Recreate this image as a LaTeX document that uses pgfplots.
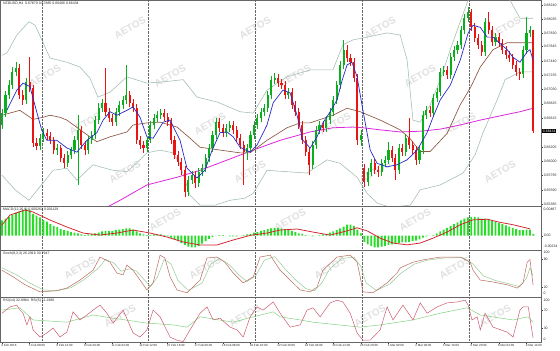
\documentclass[border=0pt]{standalone}
\usepackage{fontspec}
\setmainfont{Liberation Sans}
\usepackage{pgfplots}
\usepackage{pgfplotstable}
\pgfplotsset{compat=1.18}
\definecolor{cgreen}{RGB}{10,175,30}
\definecolor{cred}{RGB}{235,20,20}
\definecolor{cblue}{RGB}{40,40,200}
\definecolor{cbrown}{RGB}{140,85,65}
\definecolor{cmag}{RGB}{220,40,220}
\definecolor{cbb}{RGB}{160,188,172}
\definecolor{chist}{RGB}{40,220,40}
\definecolor{csig}{RGB}{210,30,40}
\definecolor{cstk}{RGB}{185,105,95}
\definecolor{cstd}{RGB}{150,200,150}
\definecolor{crsia}{RGB}{205,90,110}
\definecolor{crsib}{RGB}{130,210,130}
\definecolor{cwm}{RGB}{224,224,224}

\pgfplotstableread{
i o h l c
0 0.6652 0.6675 0.6646 0.6669
1 0.6669 0.6701 0.6663 0.6695
2 0.6695 0.6717 0.6689 0.6709
3 0.6709 0.6735 0.6704 0.6728
4 0.6728 0.6742 0.6722 0.6734
7 0.6688 0.6719 0.6682 0.6714
11 0.6622 0.6639 0.6616 0.6633
12 0.6633 0.6648 0.6628 0.6641
16 0.6616 0.6625 0.6609 0.6619
19 0.6598 0.6615 0.6592 0.6609
20 0.6609 0.6620 0.6603 0.6616
21 0.6616 0.6636 0.6610 0.6630
22 0.6630 0.6666 0.6566 0.6645
25 0.6616 0.6636 0.6610 0.6630
26 0.6630 0.6643 0.6625 0.6638
27 0.6638 0.6665 0.6632 0.6659
28 0.6659 0.6684 0.6653 0.6676
29 0.6676 0.6689 0.6671 0.6684
33 0.6656 0.6676 0.6651 0.6671
34 0.6671 0.6686 0.6665 0.6681
35 0.6681 0.6693 0.6675 0.6688
36 0.6688 0.6738 0.6682 0.6695
42 0.6619 0.6635 0.6613 0.6630
43 0.6630 0.6658 0.6626 0.6652
44 0.6652 0.6668 0.6646 0.6662
45 0.6662 0.6672 0.6656 0.6666
46 0.6666 0.6675 0.6661 0.6669
54 0.6556 0.6579 0.6550 0.6573
55 0.6573 0.6586 0.6567 0.6580
57 0.6569 0.6590 0.6563 0.6585
58 0.6585 0.6596 0.6579 0.6590
59 0.6590 0.6610 0.6585 0.6605
60 0.6605 0.6625 0.6599 0.6619
61 0.6619 0.6643 0.6613 0.6638
62 0.6638 0.6662 0.6632 0.6656
65 0.6641 0.6653 0.6635 0.6648
66 0.6648 0.6658 0.6642 0.6652
71 0.6613 0.6625 0.6602 0.6619
72 0.6619 0.6643 0.6613 0.6638
73 0.6638 0.6658 0.6632 0.6652
74 0.6652 0.6668 0.6646 0.6662
75 0.6662 0.6676 0.6656 0.6671
76 0.6671 0.6682 0.6665 0.6676
77 0.6676 0.6701 0.6671 0.6695
78 0.6695 0.6722 0.6689 0.6717
79 0.6717 0.6727 0.6711 0.6719
83 0.6695 0.6705 0.6689 0.6699
90 0.6595 0.6629 0.6589 0.6623
91 0.6623 0.6651 0.6618 0.6645
92 0.6645 0.6658 0.6639 0.6652
94 0.6648 0.6665 0.6642 0.6659
95 0.6659 0.6676 0.6653 0.6671
96 0.6671 0.6693 0.6665 0.6688
97 0.6688 0.6715 0.6682 0.6709
98 0.6709 0.6744 0.6704 0.6738
99 0.6738 0.6774 0.6732 0.6760
104 0.6630 0.6645 0.6622 0.6638
106 0.6570 0.6590 0.6565 0.6585
107 0.6585 0.6603 0.6579 0.6598
110 0.6585 0.6603 0.6579 0.6598
111 0.6598 0.6608 0.6592 0.6602
112 0.6602 0.6628 0.6596 0.6616
115 0.6587 0.6625 0.6582 0.6619
117 0.6613 0.6639 0.6608 0.6633
121 0.6602 0.6622 0.6596 0.6616
122 0.6616 0.6672 0.6610 0.6666
123 0.6666 0.6679 0.6661 0.6673
125 0.6669 0.6696 0.6663 0.6691
126 0.6691 0.6705 0.6685 0.6699
127 0.6699 0.6734 0.6693 0.6728
128 0.6728 0.6737 0.6722 0.6731
130 0.6724 0.6755 0.6718 0.6750
131 0.6750 0.6765 0.6744 0.6760
132 0.6760 0.6772 0.6754 0.6767
133 0.6767 0.6794 0.6761 0.6788
134 0.6788 0.6811 0.6782 0.6805
135 0.6805 0.6821 0.6800 0.6814
140 0.6757 0.6805 0.6751 0.6800
143 0.6771 0.6784 0.6765 0.6778
151 0.6725 0.6765 0.6719 0.6760
152 0.6760 0.6807 0.6754 0.6784
153 0.6784 0.6794 0.6778 0.6788
}\greenbars

\pgfplotstableread{
i o h l c
5 0.6734 0.6739 0.6689 0.6695
6 0.6695 0.6702 0.6681 0.6688
8 0.6714 0.6750 0.6699 0.6705
9 0.6705 0.6709 0.6620 0.6626
10 0.6626 0.6633 0.6616 0.6622
13 0.6641 0.6646 0.6630 0.6636
14 0.6636 0.6642 0.6625 0.6630
15 0.6630 0.6635 0.6610 0.6616
17 0.6619 0.6623 0.6599 0.6605
18 0.6605 0.6610 0.6590 0.6598
23 0.6645 0.6651 0.6618 0.6623
24 0.6623 0.6629 0.6609 0.6616
30 0.6684 0.6734 0.6665 0.6671
31 0.6671 0.6676 0.6656 0.6662
32 0.6662 0.6668 0.6651 0.6656
37 0.6695 0.6701 0.6678 0.6684
38 0.6684 0.6689 0.6671 0.6676
39 0.6676 0.6682 0.6625 0.6630
40 0.6630 0.6636 0.6618 0.6623
41 0.6623 0.6629 0.6612 0.6619
47 0.6669 0.6675 0.6658 0.6663
48 0.6663 0.6669 0.6651 0.6656
49 0.6656 0.6662 0.6625 0.6630
50 0.6630 0.6636 0.6603 0.6609
51 0.6609 0.6615 0.6593 0.6599
52 0.6599 0.6605 0.6580 0.6587
53 0.6587 0.6593 0.6549 0.6556
56 0.6580 0.6586 0.6562 0.6569
63 0.6656 0.6662 0.6642 0.6648
64 0.6648 0.6653 0.6635 0.6641
67 0.6652 0.6658 0.6639 0.6645
68 0.6645 0.6651 0.6628 0.6633
69 0.6633 0.6639 0.6618 0.6623
70 0.6623 0.6629 0.6566 0.6613
80 0.6719 0.6725 0.6706 0.6712
81 0.6712 0.6718 0.6704 0.6709
82 0.6709 0.6715 0.6689 0.6695
84 0.6699 0.6705 0.6675 0.6681
85 0.6681 0.6686 0.6665 0.6671
86 0.6671 0.6676 0.6646 0.6652
87 0.6652 0.6658 0.6625 0.6630
88 0.6630 0.6636 0.6608 0.6613
89 0.6613 0.6619 0.6580 0.6595
93 0.6652 0.6658 0.6642 0.6648
100 0.6760 0.6767 0.6742 0.6748
101 0.6748 0.6754 0.6737 0.6742
102 0.6742 0.6748 0.6714 0.6719
103 0.6719 0.6725 0.6623 0.6630
105 0.6590 0.6596 0.6563 0.6570
108 0.6598 0.6603 0.6582 0.6587
109 0.6587 0.6593 0.6577 0.6585
113 0.6616 0.6622 0.6599 0.6605
114 0.6605 0.6610 0.6573 0.6587
116 0.6619 0.6625 0.6608 0.6613
118 0.6633 0.6662 0.6618 0.6623
119 0.6623 0.6629 0.6610 0.6616
120 0.6616 0.6622 0.6595 0.6602
124 0.6673 0.6679 0.6663 0.6669
129 0.6731 0.6737 0.6718 0.6724
136 0.6814 0.6818 0.6787 0.6793
137 0.6793 0.6798 0.6771 0.6777
138 0.6777 0.6782 0.6761 0.6767
139 0.6767 0.6772 0.6751 0.6757
141 0.6800 0.6814 0.6782 0.6788
142 0.6788 0.6794 0.6765 0.6771
144 0.6778 0.6784 0.6764 0.6770
145 0.6770 0.6775 0.6754 0.6760
146 0.6760 0.6765 0.6747 0.6752
147 0.6752 0.6758 0.6742 0.6748
148 0.6748 0.6754 0.6732 0.6738
149 0.6738 0.6744 0.6722 0.6728
150 0.6728 0.6734 0.6717 0.6725
154 0.67879 0.67885 0.66406 0.66434
}\redbars

\pgfplotstableread{
x y
1.4 0.6673
4.3 0.6702
6.1 0.6712
8.1 0.6707
10.1 0.6670
11.5 0.6645
13.0 0.6630
15.9 0.6630
18.8 0.6619
21.7 0.6613
24.6 0.6630
27.5 0.6641
29.3 0.6659
31.3 0.6671
33.3 0.6666
36.2 0.6673
38.0 0.6678
40.0 0.6663
42.0 0.6635
43.8 0.6633
46.7 0.6656
48.7 0.6659
51.6 0.6630
53.6 0.6590
56.5 0.6576
58.8 0.6587
60.9 0.6616
63.2 0.6641
65.2 0.6642
67.0 0.6635
69.0 0.6620
71.9 0.6613
73.9 0.6623
76.8 0.6652
78.6 0.6684
81.4 0.6702
83.5 0.6698
85.5 0.6666
87.2 0.6630
89.3 0.6619
91.3 0.6635
93.0 0.6655
95.1 0.6671
97.1 0.6688
98.5 0.6715
100.0 0.6738
101.4 0.6742
102.9 0.6721
104.6 0.6673
106.7 0.6616
108.7 0.6597
111.6 0.6592
114.5 0.6595
117.4 0.6602
120.3 0.6616
123.2 0.6641
124.9 0.6663
127.0 0.6688
129.9 0.6709
132.8 0.6745
135.1 0.6784
136.5 0.6795
138.6 0.6792
140.6 0.6778
142.3 0.6778
144.3 0.6769
146.4 0.6760
148.1 0.6749
150.1 0.6742
152.2 0.6757
153.0 0.6760
153.9 0.6745
}\blueMA

\pgfplotstableread{
x y
0 0.6666
5.2 0.6673
9.0 0.6660
11.9 0.6663
13.9 0.6666
16.8 0.6663
18.8 0.6659
23.5 0.6642
27.5 0.6628
31.3 0.6635
36.2 0.6642
38.0 0.6652
42.0 0.6655
45.8 0.6656
50.7 0.6649
54.5 0.6633
57.4 0.6620
63.2 0.6616
69.0 0.6612
71.9 0.6612
76.8 0.6630
82.6 0.6648
86.4 0.6655
89.3 0.6655
95.9 0.6666
100.0 0.6676
103.8 0.6671
109.6 0.6659
115.4 0.6645
118.3 0.6632
121.2 0.6614
124.1 0.6614
129.0 0.6640
132.8 0.6681
135.7 0.6705
138.6 0.6735
142.3 0.6760
146.4 0.6770
153.9 0.6770
}\brownMA

\pgfplotstableread{
x y
27.0 0.6525
34.2 0.6544
42.0 0.6566
50.7 0.6577
57.4 0.6587
67.0 0.6605
72.8 0.6616
80.6 0.6630
89.3 0.6642
95.9 0.6648
101.7 0.6649
104.6 0.6648
109.6 0.6645
115.4 0.6642
121.2 0.6643
127.0 0.6646
132.8 0.6652
138.6 0.6659
144.3 0.6665
150.1 0.6671
153.9 0.6676
}\magMA

\pgfplotstableread{
x y
0 0.6752
1.4 0.6755
4.3 0.6781
7.8 0.6800
9.6 0.6795
11.9 0.6770
13.9 0.6748
18.8 0.6742
22.6 0.6735
25.5 0.6719
27.8 0.6692
31.3 0.6699
36.2 0.6721
42.0 0.6712
47.2 0.6714
52.5 0.6717
56.5 0.6692
62.3 0.6685
69.0 0.6671
72.8 0.6669
76.8 0.6702
82.6 0.6721
89.3 0.6731
95.9 0.6731
98.8 0.6767
101.7 0.6774
105.8 0.6778
111.6 0.6784
115.4 0.6781
117.4 0.6745
119.1 0.6659
121.2 0.6656
124.1 0.6681
127.0 0.6717
129.9 0.6760
132.8 0.6800
135.1 0.6831
138.6 0.6860
142.9 0.6860
147.2 0.6831
150.1 0.6805
153.9 0.6805
}\bbup

\pgfplotstableread{
x y
0 0.6580
3.8 0.6559
7.8 0.6544
11.9 0.6569
14.8 0.6587
18.8 0.6590
21.7 0.6573
26.4 0.6595
28.4 0.6592
32.2 0.6587
36.2 0.6585
40.0 0.6602
42.0 0.6612
45.8 0.6616
49.6 0.6612
51.6 0.6595
54.5 0.6551
57.4 0.6537
61.7 0.6537
66.1 0.6544
70.4 0.6547
72.8 0.6554
76.8 0.6587
82.6 0.6585
88.4 0.6583
94.2 0.6602
98.0 0.6597
102.9 0.6577
105.8 0.6554
108.7 0.6540
112.5 0.6534
118.3 0.6537
121.2 0.6559
127.0 0.6566
133.6 0.6583
137.1 0.6609
139.4 0.6641
143.5 0.6688
145.8 0.6717
150.1 0.6728
153.9 0.6728
}\bblo

\pgfplotstableread{
i v
0 0.0025
1 0.0028
2 0.0031
3 0.0034
4 0.0038
5 0.0040
6 0.0042
7 0.0043
8 0.0042
9 0.0036
10 0.0033
11 0.0030
12 0.0026
13 0.0023
14 0.0019
15 0.0016
16 0.0014
17 0.0011
18 0.0009
19 0.0008
20 0.0006
21 0.0005
22 0.0004
23 0.0002
24 0.0001
25 0.0002
26 0.0003
27 0.0004
28 0.0005
29 0.0007
30 0.0008
31 0.0008
32 0.0008
33 0.0009
34 0.0010
35 0.0011
36 0.0012
37 0.0012
38 0.0010
39 0.0007
40 0.0004
41 0.0002
42 0.0001
43 0.0001
44 0.0002
45 0.0002
46 0.0002
47 0.0001
48 -0.0001
49 -0.0003
50 -0.0006
51 -0.0009
52 -0.0012
53 -0.0015
54 -0.0018
55 -0.0019
56 -0.0019
57 -0.0017
58 -0.0013
59 -0.0009
60 -0.0005
61 -0.0002
62 0.00003
63 0.0001
64 0.0001
65 0.00003
66 -0.0001
67 -0.0001
68 -0.0001
69 0.00003
70 0.0001
71 0.0002
72 0.0003
73 0.0005
74 0.0006
75 0.0008
76 0.0009
77 0.0011
78 0.0012
79 0.0013
80 0.0013
81 0.0012
82 0.0011
83 0.0010
84 0.0008
85 0.0006
86 0.0004
87 0.0003
88 0.0001
89 0.00003
90 -0.0001
91 0.00003
92 0.0001
93 0.0002
94 0.0003
95 0.0005
96 0.0007
97 0.0009
98 0.0012
99 0.0015
100 0.0018
101 0.0018
102 0.0016
103 0.0010
104 0.0004
105 -0.0010
106 -0.0014
107 -0.0017
108 -0.0019
109 -0.0019
110 -0.0018
111 -0.0017
112 -0.0015
113 -0.0014
114 -0.0013
115 -0.0012
116 -0.0011
117 -0.0011
118 -0.0010
119 -0.0009
120 -0.0008
121 -0.0006
122 -0.0003
123 -0.0001
124 0.00003
125 0.0001
126 0.0004
127 0.0007
128 0.0010
129 0.0013
130 0.0016
131 0.0019
132 0.0022
133 0.0025
134 0.0028
135 0.0030
136 0.0031
137 0.0031
138 0.0030
139 0.0028
140 0.0028
141 0.0027
142 0.0025
143 0.0023
144 0.0021
145 0.0019
146 0.0017
147 0.0015
148 0.0013
149 0.0011
150 0.0009
151 0.0009
152 0.0010
153 0.0010
154 0.0003
}\macdhist

\pgfplotstableread{
x y
0 0.00175
2.3 0.00339
6.7 0.00421
9.0 0.00388
13.9 0.00257
18.8 0.00143
23.5 0.00044
28.4 0.00011
33.3 0.00044
38.0 0.00093
42.9 0.00044
47.8 -0.00021
52.5 -0.00103
57.4 -0.00152
62.3 -0.00152
67.0 -0.00070
71.9 0.00005
76.8 0.00044
80.6 0.00093
85.5 0.00110
90.1 0.00060
95.1 0.00010
100.0 0.00080
102.9 0.00130
105.8 0.00080
109.6 -0.00040
113.3 -0.00120
117.4 -0.00150
121.2 -0.00120
124.9 -0.00040
129.0 0.00060
132.8 0.00180
136.5 0.00260
140.6 0.00270
144.3 0.00220
148.1 0.00180
153.0 0.00113
}\macdsig

\pgfplotstableread{
x y
0 57
3.2 43
6.7 26
11.0 11
15.4 13
18.8 19
22.6 36
26.4 57
28.4 85
31.3 74
33.3 51
35.1 47
36.2 68
38.0 57
42.0 15
43.8 30
45.8 89
47.2 83
48.7 43
50.7 15
53.6 9
57.4 36
59.4 83
62.3 85
64.6 74
67.0 51
69.9 30
72.8 43
74.8 85
77.7 89
80.6 57
83.5 36
86.4 15
89.3 11
91.3 21
93.0 57
97.1 85
100.9 89
102.9 74
103.8 43
104.6 11
107.5 9
111.6 30
114.5 51
115.4 62
119.1 74
122.0 79
127.0 85
132.8 85
135.7 74
136.5 57
138.6 36
142.3 32
146.4 26
149.3 19
151.0 30
152.2 74
153.0 80
153.9 26
}\stochK

\pgfplotstableread{
x y
0 62
4 48
8 30
12 15
16 13
20 20
24 38
28 62
30 80
32.5 72
34.5 55
37 60
39 55
43 22
45 42
47 80
49 70
51 35
54 14
58 30
60.5 70
63 82
66 68
68.5 48
71 33
73.5 45
76 78
79 86
82 60
85 37
88 18
90.5 13
92.5 28
95 60
98.5 82
102 85
104 65
105.5 30
108.5 14
112.5 28
115.5 50
119.5 70
123 78
128 83
133.5 84
136.5 70
139.5 45
143 35
147 28
150 22
152 40
153 62
153.9 45
}\stochD

\pgfplotstableread{
x y
0 64
2.3 78
4.3 82
5.2 71
6.1 64
7.2 38
8.1 56
9.0 27
11.0 11
13.0 20
14.8 31
16.8 11
18.8 22
20.6 67
22.6 49
24.6 60
26.4 71
28.4 82
30.4 64
32.2 42
35.1 71
38.0 20
40.0 11
42.0 27
43.8 71
45.8 56
48.7 11
50.7 4
52.5 1
54.5 27
57.4 64
59.4 78
61.2 49
63.2 53
66.1 33
68.1 27
69.9 11
71.9 56
73.9 78
75.7 71
78.6 89
80.6 64
83.5 33
86.4 38
88.4 71
90.1 76
92.2 56
95.1 87
97.1 93
98.8 89
100.9 64
102.9 20
104.6 4
106.7 4
109.6 27
111.6 78
113.3 49
116.2 82
119.1 49
121.2 87
123.2 64
126.1 78
129.0 87
131.9 89
134.2 93
135.1 82
136.2 49
137.7 56
138.6 27
140.0 64
142.3 33
146.4 22
148.1 11
150.1 71
151.0 78
152.5 78
153.9 9
}\rsiA

\pgfplotstableread{
x y
0 71
5.2 76
9.0 49
18.8 44
26.4 60
32.2 53
42.0 42
49.6 38
53.6 33
57.4 56
67.0 44
72.8 56
78.6 67
80.6 56
86.4 49
90.1 44
103.8 33
109.6 38
119.1 49
127.0 64
134.8 76
138.6 60
148.1 49
152.5 56
153.9 44
}\rsiB

\pgfplotsset{
  panel/.style={
    scale only axis, width=541pt, xmin=-0.58, xmax=156.2,
    axis line style={draw=black!60, line width=0.7pt},
    ytick pos=right, yticklabel pos=right,
    scaled y ticks=false, scaled x ticks=false,
    tick align=outside, major tick length=1.6pt,
    tick style={draw=black!75, line width=0.3pt},
    yticklabel style={font=\fontsize{3.5}{4}\selectfont, text=black!85, inner sep=1pt},
    xtick=\empty,
    extra x ticks={11.5,42.5,73.5,104.5,135.5},
    extra x tick labels={},
    extra x tick style={grid=major, major tick length=0pt},
    major grid style={densely dotted, black!60, line width=0.35pt},
    /pgf/number format/assume math mode=true,
  },
  wick/.style={draw=none, mark=none, forget plot, error bars/.cd, y dir=both, y explicit, error mark=none, error bar style={solid, draw=#1, line width=0.55pt}},
  body/.style={draw=none, mark=none, forget plot, error bars/.cd, y dir=both, y explicit, error mark=none, error bar style={solid, draw=#1, line width=2.1pt}},
}
\newcommand{\lf}{\fontsize{3.5}{4}\selectfont}

\begin{document}
\begin{tikzpicture}
\path[use as bounding box] (0,0) rectangle (560pt,-351pt);
\foreach \wx/\wy in {130/28,255/28,380/28,505/28,
                     45/76,170/76,295/76,420/76,
                     85/124,210/124,335/124,460/124,
                     125/172,250/172,375/172,500/172,
                     165/220,290/220,415/220,
                     80/268,205/268,330/268,455/268,
                     120/316,245/316,370/316,495/316} {
  \node[rotate=30, text=cwm, inner sep=0pt, font=\fontsize{10}{10}\selectfont\bfseries] at (\wx pt,-\wy pt) {AETOS};
}

% main price panel
\begin{axis}[panel, name=main, at={(0pt,0pt)}, anchor=north west, height=206pt,
  ymin=0.65358, ymax=0.68312,
  ytick={0.68240,0.68035,0.67830,0.67645,0.67440,0.67235,0.67030,0.66825,0.66615,0.66205,0.66000,0.65795,0.65590,0.65385},
  yticklabels={0.68240,0.68035,0.67830,0.67645,0.67440,0.67235,0.67030,0.66825,0.66615,0.66205,0.66000,0.65795,0.65590,0.65385}]
\addplot[cbb, line width=0.55pt] table[x=x,y=y] {\bbup};
\addplot[cbb, line width=0.55pt] table[x=x,y=y] {\bblo};
\addplot[cmag, line width=0.8pt] table[x=x,y=y] {\magMA};
\addplot[cbrown, line width=0.65pt] table[x=x,y=y] {\brownMA};
\addplot[wick=cgreen] table[x=i, y expr={(\thisrow{h}+\thisrow{l})/2}, y error expr={(\thisrow{h}-\thisrow{l})/2}] {\greenbars};
\addplot[body=cgreen] table[x=i, y expr={(\thisrow{o}+\thisrow{c})/2}, y error expr={abs(\thisrow{c}-\thisrow{o})/2}] {\greenbars};
\addplot[wick=cred] table[x=i, y expr={(\thisrow{h}+\thisrow{l})/2}, y error expr={(\thisrow{h}-\thisrow{l})/2}] {\redbars};
\addplot[body=cred] table[x=i, y expr={(\thisrow{o}+\thisrow{c})/2}, y error expr={abs(\thisrow{c}-\thisrow{o})/2}] {\redbars};
\addplot[cblue, line width=0.7pt] table[x=x,y=y] {\blueMA};
\end{axis}

% MACD
\begin{axis}[panel, name=macd, at={(0pt,-206pt)}, anchor=north west, height=44pt,
  ymin=-0.00234, ymax=0.00487, ytick={0}, yticklabels={0.00}]
\addplot[ybar, bar width=1.9pt, fill=chist, draw=none] table[x=i,y=v] {\macdhist};
\addplot[csig, line width=0.75pt] table[x=x,y=y] {\macdsig};
\end{axis}

% Stochastic
\begin{axis}[panel, name=stoch, at={(0pt,-250pt)}, anchor=north west, height=47pt,
  ymin=0, ymax=100, ytick={20,80}, yticklabels={20,80}]
\addplot[cstd, line width=0.5pt] table[x=x,y=y] {\stochD};
\addplot[cstk, line width=0.5pt] table[x=x,y=y] {\stochK};
\end{axis}

% RSI
\begin{axis}[panel, name=rsi, at={(0pt,-297pt)}, anchor=north west, height=45pt,
  ymin=0, ymax=100, ytick={30,70}, yticklabels={30,70},
  xtick={0,8,...,152}, xtick pos=bottom,
  xticklabels={4 Feb 2016,5 Feb 08:00,8 Feb 12:00,9 Feb 20:00,11 Feb 04:00,12 Feb 12:00,15 Feb 16:00,17 Feb 00:00,18 Feb 08:00,19 Feb 16:00,22 Feb 20:00,24 Feb 04:00,25 Feb 12:00,26 Feb 20:00,1 Mar 00:00,2 Mar 08:00,3 Mar 16:00,6 Mar 20:00,8 Mar 04:00,9 Mar 12:00},
  xticklabel style={font=\fontsize{3.0}{3.5}\selectfont, anchor=north west, inner sep=0.6pt, xshift=-1.5pt, text=black!85}]
\addplot[crsib, line width=0.5pt] table[x=x,y=y] {\rsiB};
\addplot[crsia, line width=0.5pt] table[x=x,y=y] {\rsiA};
\end{axis}

% panel titles
\node[anchor=north west, inner sep=0pt, font=\lf, text=black!85] at (3pt,-2pt) {NZDUSD,H4\ \ 0.67879 0.67885 0.66406 0.66434};
\node[anchor=north west, inner sep=0pt, font=\lf, text=black!85] at (3pt,-208pt) {MACD(12,26,9) 0.000262 0.001129};
\node[anchor=north west, inner sep=0pt, font=\lf, text=black!85] at (3pt,-252pt) {Stoch(8,3,3) 26.2916 30.7947};
\node[anchor=north west, inner sep=0pt, font=\lf, text=black!85] at (3pt,-299pt) {RSI(14) 32.8984\ \ RSI(5) 11.2386};

% extra right-hand labels
\node[anchor=west, inner sep=1pt, font=\lf, text=black!85] at (542.5pt,-209pt) {0.00487};
\node[anchor=west, inner sep=1pt, font=\lf, text=black!85] at (542.5pt,-246.5pt) {-0.00234};
\node[anchor=west, inner sep=1pt, font=\lf, text=black!85] at (542.5pt,-252.5pt) {100};
\node[anchor=west, inner sep=1pt, font=\lf, text=black!85] at (542.5pt,-293.5pt) {0};
\node[anchor=west, inner sep=1pt, font=\lf, text=black!85] at (542.5pt,-300pt) {100};
\node[anchor=west, inner sep=1pt, font=\lf, text=black!85] at (542.5pt,-339.5pt) {0};
\node[anchor=west, fill=black, text=white, inner sep=0.7pt, font=\lf] at (542pt,-131pt) {0.66434};
\end{tikzpicture}
\end{document}
